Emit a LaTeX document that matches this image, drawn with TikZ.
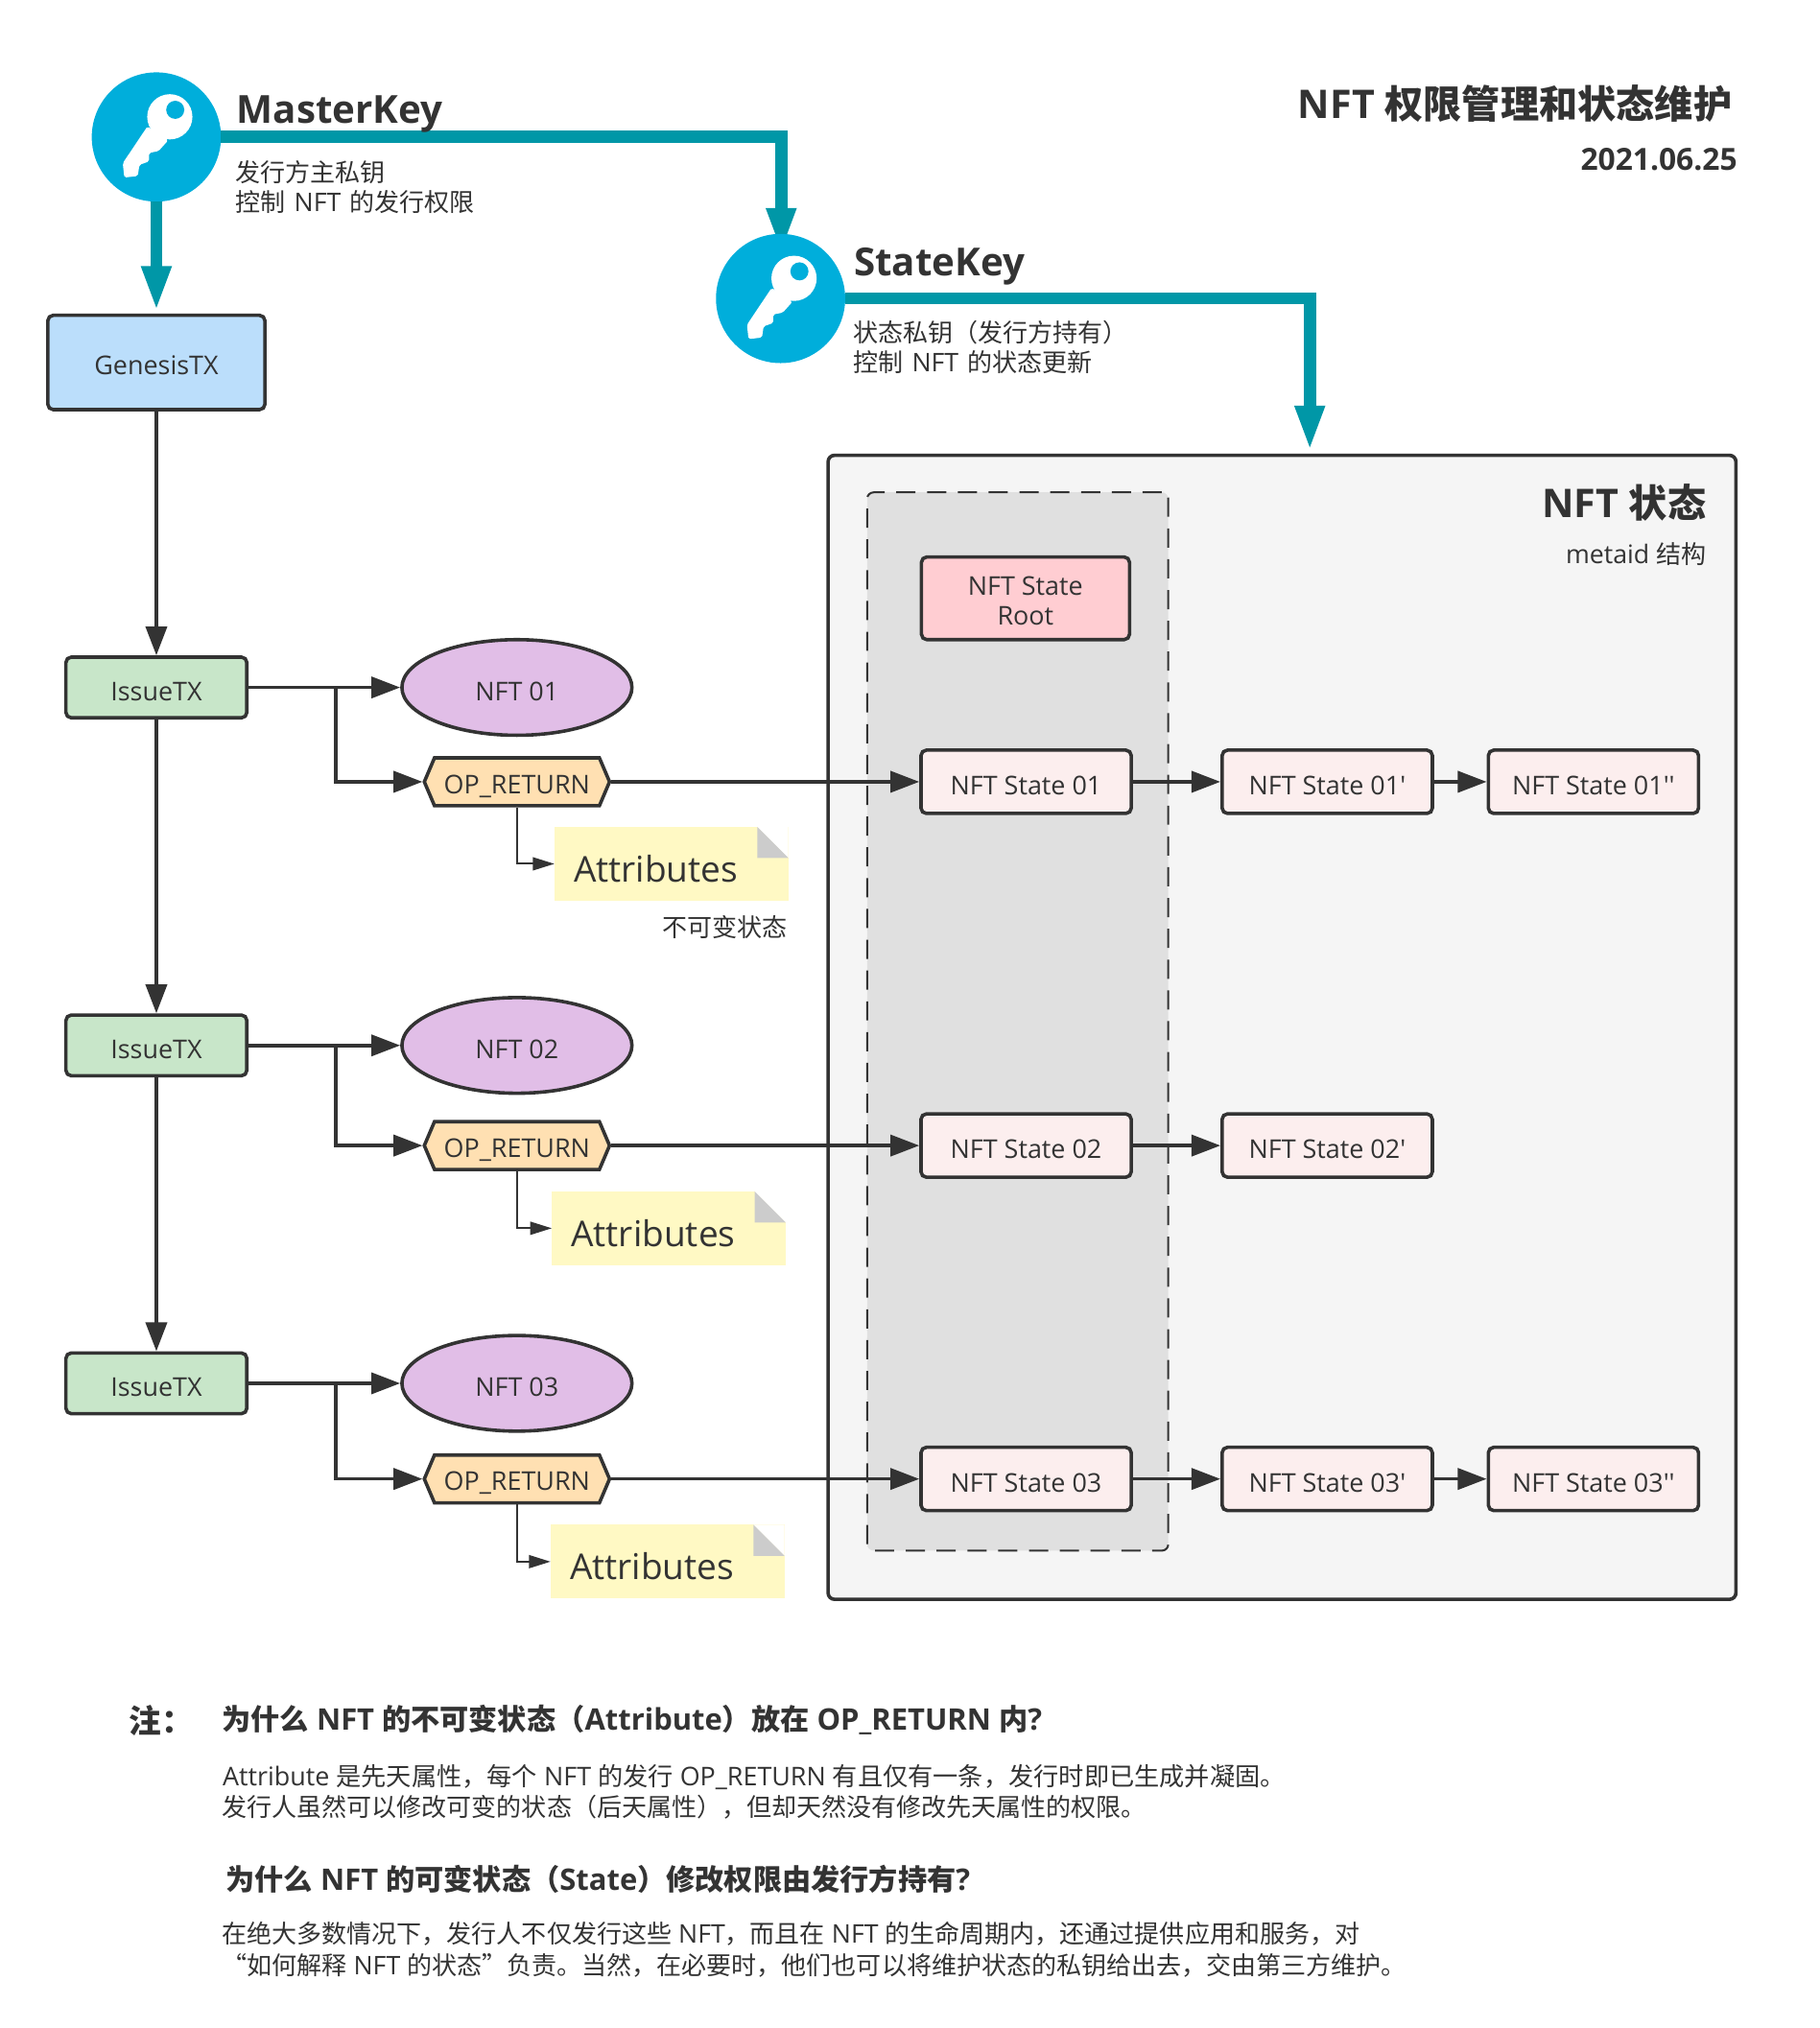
\documentclass[tikz,border=0pt]{standalone}
\usepackage{fontspec}
\newfontfamily\latinf[Scale=1.025]{Open Sans}
\newfontfamily\cjk{Noto Sans CJK SC}
\newcommand{\zh}[1]{{\cjk #1}}
\usetikzlibrary{arrows.meta,positioning,shapes.geometric,shapes.symbols}
\definecolor{ink}{HTML}{333333}
\definecolor{tealln}{HTML}{0097A7}
\definecolor{keyblue}{HTML}{00AEDB}
\definecolor{foldgrey}{HTML}{CCCCCC}
\tikzset{
  box/.style={draw=ink,line width=1.6pt,rounded corners=2.5pt,text=ink,font=\fontsize{11.7pt}{14pt}\selectfont,inner sep=0pt,align=center,text height=12pt,text depth=0pt},
  genbox/.style={box,fill={rgb,255:red,187;green,222;blue,251},minimum width=100.8pt,minimum height=43.8pt,text height=11pt},
  issbox/.style={box,fill={rgb,255:red,200;green,230;blue,201},minimum width=84pt,minimum height=28.2pt},
  nftell/.style={box,ellipse,fill={rgb,255:red,225;green,190;blue,231},minimum width=106.8pt,minimum height=44.4pt},
  ophex/.style={box,rounded corners=0pt,signal,signal to=east and west,signal from=nowhere,signal pointer angle=134,fill={rgb,255:red,255;green,224;blue,178},minimum width=86pt,minimum height=22.2pt,text height=10.8pt},
  stbox/.style={box,fill={rgb,255:red,252;green,238;blue,238},minimum width=97.6pt,minimum height=29.4pt},
  rootbox/.style={box,fill={rgb,255:red,255;green,205;blue,210},minimum width=96.6pt,minimum height=38.4pt,text height=25.2pt,text depth=0pt},
  note/.style={fill={rgb,255:red,255;green,249;blue,196},text=ink,font=\fontsize{16.1pt}{18pt}\selectfont,minimum width=108.6pt,minimum height=34.2pt,inner xsep=9pt,inner ysep=0pt,outer sep=0pt,text width=90.6pt,align=left,text height=17pt,text depth=0pt},
  keyc/.style={circle,fill=keyblue,minimum size=60pt,inner sep=0pt,outer sep=0pt},
  conn/.style={draw=ink,line width=1.6pt,-{Triangle[length=13.4pt,width=9.8pt]}},
  thinconn/.style={draw=ink,line width=.9pt,-{Triangle[length=10pt,width=6pt]}},
  bigconn/.style={draw=tealln,line width=5.6pt,-{Triangle[length=21pt,width=12.6pt]}},
  lbl/.style={text=ink,inner sep=0pt,font=\fontsize{11.6pt}{14pt}\selectfont},
  hdg/.style={text=ink,inner sep=0pt,font=\fontsize{13.45pt}{16pt}\selectfont\bfseries},
  ttl/.style={text=ink,inner sep=0pt,font=\fontsize{17.9pt}{20pt}\selectfont\bfseries},
  keyttl/.style={ttl,font=\fontsize{17.5pt}{20pt}\selectfont\bfseries}
}
\newcommand{\keyicon}[1]{%
  \begin{scope}[shift={(#1.center)}]
    \fill[white] (10.4,-15.6) circle[radius=17.5];
    \fill[white,rounded corners=.8pt] (-6.9,-8.2) -- (-26,20.3) -- (-24.8,31.4) -- (-14.4,30.2) -- (-13.1,21.5) -- (-5.7,19) -- (-5.7,12.4) -- (1.7,10.9) -- (9.2,2.5) -- cycle;
    \fill[keyblue] (14.6,-21) circle[radius=7];
  \end{scope}}
\newcommand{\dogear}[1]{%
  \fill[white] (#1.north east) -- ++(-24,0) -- ++(24,24) -- cycle;
  \fill[foldgrey] (#1.north east) ++(-24,0) -- ++(24,24) -- ++(-24,0) -- cycle;}
\begin{document}
\latinf
\begin{tikzpicture}[x=.6pt,y=-.6pt]
  \useasboundingbox (0,0) rectangle (1408.3,1569.4);
  \node[draw=ink,line width=1.6pt,rounded corners=3pt,fill={rgb,255:red,245;green,245;blue,245},minimum width=421.5pt,minimum height=531.2pt] (panel) at (992,795) {};
  \node[draw=ink,line width=.9pt,dash pattern=on 8.9pt off 5.4pt,rounded corners=3pt,fill={rgb,255:red,224;green,224;blue,224},minimum width=139.8pt,minimum height=491.4pt] (zone) at (787.5,790.5) {};

  \node[keyc] (msk) at (121,106) {};
  \coordinate (stktip) at (604.5,196);
  \coordinate (gentop) at (121,241);
  \coordinate (pnltop) at (1013.5,349);
  \draw[bigconn] (msk.east) -| (stktip);
  \draw[bigconn] (msk.south) -- (gentop);
  \node[keyc] (stk) at (604,231) {};
  \draw[bigconn] (stk.east) -| (pnltop);
  \keyicon{msk}
  \keyicon{stk}

  \node[keyttl,anchor=base west] (msktxt) at (183,95.5) {MasterKey};
  \node[lbl,anchor=base west] (mskl1) at (182,141) {\zh{发行方主私钥}};
  \node[lbl,anchor=base west] (mskl2) at (182,164) {\zh{控制}\hspace{.9pt} NFT\hspace{.9pt} \zh{的发行权限}};
  \node[keyttl,anchor=base west] (stktxt) at (660.5,213.5) {StateKey};
  \node[lbl,anchor=base west] (stkl1) at (660,265) {\zh{状态私钥（发行方持有）}};
  \node[lbl,anchor=base west] (stkl2) at (660,288) {\zh{控制}\hspace{.9pt} NFT\hspace{.9pt} \zh{的状态更新}};
  \node[ttl,anchor=base east] (title) at (1340.5,92) {NFT \zh{权限管理和状态维护}};
  \node[text=ink,inner sep=0pt,font=\fontsize{13.8pt}{16pt}\selectfont\bfseries,anchor=base east] (date) at (1344.5,131.5) {2021.06.25};

  \node[genbox] (gen) at (121,280.5) {GenesisTX};
  \node[issbox] (iss1) at (121,532) {IssueTX};
  \node[issbox] (iss2) at (121,809) {IssueTX};
  \node[issbox] (iss3) at (121,1070.5) {IssueTX};
  \node[nftell] (nft1) at (400,532) {NFT 01};
  \node[nftell] (nft2) at (400,809) {NFT 02};
  \node[nftell] (nft3) at (400,1070.5) {NFT 03};
  \node[ophex] (opr1) at (400,605) {OP\_RETURN};
  \node[ophex] (opr2) at (400,886.5) {OP\_RETURN};
  \node[ophex] (opr3) at (400,1144.5) {OP\_RETURN};
  \node[note] (att1) at (519.5,668.5) {Attributes};
  \node[note] (att2) at (517.5,950.5) {Attributes};
  \node[note] (att3) at (516.5,1208.5) {Attributes};
  \dogear{att1}
  \dogear{att2}
  \dogear{att3}
  \node[lbl,anchor=base east] (immut) at (609.5,725) {\zh{不可变状态}};

  \node[ttl,anchor=base east] (pnlttl) at (1320.5,400.5) {NFT \zh{状态}};
  \node[lbl,anchor=base east] (pnlsub) at (1320.5,436) {metaid \zh{结构}};
  \node[rootbox] (root) at (793.5,463) {NFT State~\\Root};
  \node[stbox] (st1) at (794,605) {NFT State 01};
  \node[stbox] (st1a) at (1027,605) {NFT State 01'};
  \node[stbox] (st1b) at (1233,605) {NFT State 01''};
  \node[stbox] (st2) at (794,886.5) {NFT State 02};
  \node[stbox] (st2a) at (1027,886.5) {NFT State 02'};
  \node[stbox] (st3) at (794,1144.5) {NFT State 03};
  \node[stbox] (st3a) at (1027,1144.5) {NFT State 03'};
  \node[stbox] (st3b) at (1233,1144.5) {NFT State 03''};

  \coordinate (j1) at (260,532);
  \coordinate (j2) at (260,809);
  \coordinate (j3) at (260,1070.5);
  \draw[conn] (gen.south) -- (iss1.north);
  \draw[conn] (iss1.south) -- (iss2.north);
  \draw[conn] (iss2.south) -- (iss3.north);
  \draw[conn] (iss1.east) -- (nft1.west);
  \draw[conn] (iss2.east) -- (nft2.west);
  \draw[conn] (iss3.east) -- (nft3.west);
  \draw[conn] (j1) |- (opr1.west);
  \draw[conn] (j2) |- (opr2.west);
  \draw[conn] (j3) |- (opr3.west);
  \draw[thinconn] (opr1.south) |- (att1.west);
  \draw[thinconn] (opr2.south) |- (att2.west);
  \draw[thinconn] (opr3.south) |- (att3.west);
  \draw[conn] (opr1.east) -- (st1.west);
  \draw[conn] (opr2.east) -- (st2.west);
  \draw[conn] (opr3.east) -- (st3.west);
  \draw[conn] (st1.east) -- (st1a.west);
  \draw[conn] (st1a.east) -- (st1b.west);
  \draw[conn] (st2.east) -- (st2a.west);
  \draw[conn] (st3.east) -- (st3a.west);
  \draw[conn] (st3a.east) -- (st3b.west);

  \node[text=ink,inner sep=0pt,font=\fontsize{15pt}{18pt}\selectfont\bfseries,anchor=base west] (zhu) at (99.5,1341) {\zh{注：}};
  \node[hdg,anchor=base west] (q1) at (171.5,1339) {\zh{为什么} NFT \zh{的不可变状态（}Attribute\zh{）放在} OP\_RETURN \zh{内}?};
  \node[lbl,font=\fontsize{11.68pt}{14pt}\selectfont,anchor=base west] (a1l1) at (172,1382) {Attribute \zh{是先天属性，每个} NFT \zh{的发行} OP\_RETURN \zh{有且仅有一条，发行时即已生成并凝固。}};
  \node[lbl,anchor=base west] (a1l2) at (171.5,1406) {\zh{发行人虽然可以修改可变的状态（后天属性），但却天然没有修改先天属性的权限。}};
  \node[hdg,anchor=base west] (q2) at (174.5,1463) {\zh{为什么} NFT \zh{的可变状态（}State\zh{）修改权限由发行方持有}?};
  \node[lbl,anchor=base west] (a2l1) at (171.5,1504) {\zh{在绝大多数情况下，发行人不仅发行这些} NFT\zh{，而且在} NFT \zh{的生命周期内，还通过提供应用和服务，对}};
  \node[lbl,anchor=base west] (a2l2) at (171.5,1528) {\zh{“如何解释} NFT \zh{的状态”负责。当然，在必要时，他们也可以将维护状态的私钥给出去，交由第三方维护。}};
\end{tikzpicture}
\end{document}
